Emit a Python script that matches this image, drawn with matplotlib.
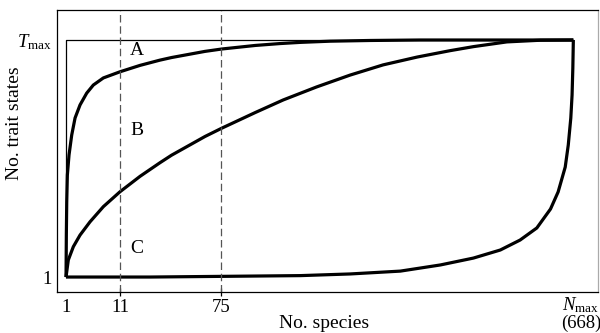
import numpy as np
import matplotlib
matplotlib.use("Agg")
import matplotlib.pyplot as plt

plt.rcParams["font.family"] = ["Liberation Serif", "DejaVu Serif"]
plt.rcParams["mathtext.fontset"] = "custom"
plt.rcParams["mathtext.rm"] = "Liberation Serif"
plt.rcParams["mathtext.it"] = "Liberation Serif:italic"

# x = relative position along the species axis (1 -> 0, N_max -> 1)
# y = relative number of trait states (1 -> 0, T_max -> 1)
xA = [0.0, 0.0006, 0.0014, 0.0026, 0.0059, 0.0112, 0.0178, 0.0276, 0.0408,
      0.0538, 0.0736, 0.1065, 0.146, 0.185, 0.208, 0.274, 0.307, 0.373,
      0.422, 0.462, 0.521, 0.600, 0.698, 1.0]
yA = [0.0, 0.177, 0.318, 0.430, 0.515, 0.599, 0.671, 0.726, 0.776,
      0.810, 0.840, 0.866, 0.893, 0.915, 0.926, 0.952, 0.962, 0.977,
      0.985, 0.990, 0.995, 0.998, 1.0, 1.0]

xB = [0.0, 0.0045, 0.0144, 0.0276, 0.0473, 0.0736, 0.1065, 0.146, 0.185,
      0.208, 0.274, 0.307, 0.373, 0.428, 0.494, 0.560, 0.625, 0.692, 0.757,
      0.803, 0.869, 0.935, 1.0]
yB = [0.0, 0.072, 0.128, 0.177, 0.233, 0.297, 0.360, 0.425, 0.482,
      0.514, 0.593, 0.628, 0.694, 0.747, 0.802, 0.852, 0.895, 0.928, 0.955,
      0.972, 0.992, 0.999, 1.0]

xC = [0.0, 0.166, 0.363, 0.462, 0.560, 0.659, 0.738, 0.803, 0.856, 0.895,
      0.928, 0.955, 0.970, 0.984, 0.990, 0.995, 0.9975, 0.999, 1.0]
yC = [0.0, 0.0, 0.004, 0.006, 0.013, 0.025, 0.051, 0.080, 0.114, 0.156,
      0.207, 0.287, 0.359, 0.464, 0.557, 0.671, 0.768, 0.882, 1.0]

species_ticks = ["1", "11", "75"]
species_pos = [0.0, 0.1065, 0.3057]   # where those counts sit on the axis
nmax_label = "$N_{\\mathrm{max}}$\n(668)"
dashed_at = [0.1065, 0.3057]          # 11 and 75 species
trait_ticks = ["1", "$T_{\\mathrm{max}}$"]
curve_labels = ["A", "B", "C"]
label_y = [0.955, 0.62, 0.12]

fig = plt.figure(figsize=(6, 3.33), dpi=100)
ax = fig.add_axes([0.095, 0.123, 0.902, 0.847])

# thin envelope: left edge and T_max ceiling
ax.plot([0, 0, 1], [0, 1, 1], color="black", lw=0.9)
for xs, ys in [(xA, yA), (xB, yB), (xC, yC)]:
    ax.plot(xs, ys, color="black", lw=2.3, solid_capstyle="butt", solid_joinstyle="round")

for xd in dashed_at:
    ax.axvline(xd, color="#555555", lw=0.9, dashes=(6, 3))

for lab, ly in zip(curve_labels, label_y):
    ax.text(0.139, ly, lab, fontsize=14, ha="center", va="center")

ax.set_xlim(-0.0178, 1.049)
ax.set_ylim(-0.0633, 1.1266)

ax.set_xticks(species_pos)
ax.set_xticklabels(species_ticks, fontsize=13.5)
ax.tick_params(axis="x", direction="inout", length=6, width=0.9, pad=2)
ax.xaxis.get_major_ticks()[0].tick1line.set_visible(False)

ax.annotate(nmax_label, xy=(1.0, 0), xycoords=("data", "axes fraction"),
            xytext=(5.5, -2), textcoords="offset points", ha="center", va="top",
            fontsize=13.5, linespacing=1.0)

ax.set_yticks([0, 1])
ax.set_yticklabels(trait_ticks, fontsize=13.5)
ax.tick_params(axis="y", length=0, pad=4)

ax.set_xlabel("No. species", fontsize=14)
ax.set_ylabel("No. trait states", fontsize=14)
ax.xaxis.set_label_coords(0.494, -0.08)
ax.yaxis.set_label_coords(-0.063, 0.60)

for side in ("left", "bottom", "top"):
    ax.spines[side].set_color("black")
    ax.spines[side].set_linewidth(0.9)
ax.spines["right"].set_color("#aaaaaa")
ax.spines["right"].set_linewidth(0.9)

fig.savefig("out.png", dpi=100, facecolor="white")
